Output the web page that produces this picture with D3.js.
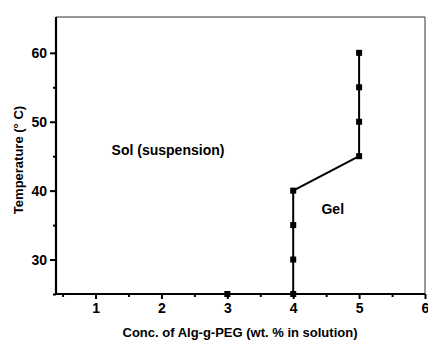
<!DOCTYPE html>
<html>
<head>
<meta charset="utf-8">
<script src="https://cdn.jsdelivr.net/npm/d3@7"></script>
<style>
  body { margin: 0; background: #fff; }
  text { font-family: "Liberation Sans", Arial, sans-serif; font-weight: bold; fill: #000; }
</style>
</head>
<body>
<svg id="chart" width="428" height="340"></svg>
<script>
// phase boundary data
const concentration = [3, 4, 4, 4, 4, 5, 5, 5, 5];
const temperature = [25, 25, 30, 35, 40, 45, 50, 55, 60];
const xMajorTicks = [1, 2, 3, 4, 5, 6];
const xMinorTicks = [0.5, 1.5, 2.5, 3.5, 4.5, 5.5];
const yMajorTicks = [30, 40, 50, 60];
const yMinorTicks = [25, 35, 45, 55];
const regionLabels = [
  { text: 'Sol (suspension)', x: 2.1, y: 45.9 },
  { text: 'Gel', x: 4.6, y: 37.3 }
];

const margin = { top: 17, right: 3, bottom: 46, left: 56 };
const width = 428, height = 340;
const innerWidth = width - margin.left - margin.right;
const innerHeight = height - margin.top - margin.bottom;

const svg = d3.select('#chart');
const g = svg.append('g').attr('transform', `translate(${margin.left},${margin.top})`);

const x = d3.scaleLinear().domain([0.4, 6]).range([0, innerWidth]);
const y = d3.scaleLinear().domain([25, 65.2]).range([innerHeight, 0]);

// top and right frame (thin)
g.append('line').attr('x1', 0).attr('x2', innerWidth).attr('y1', 0).attr('y2', 0)
  .attr('stroke', '#333').attr('stroke-width', 1);
g.append('line').attr('x1', innerWidth).attr('x2', innerWidth).attr('y1', 0).attr('y2', innerHeight)
  .attr('stroke', '#333').attr('stroke-width', 1);

// x axis
const xAxis = g.append('g').attr('transform', `translate(0,${innerHeight})`)
  .call(d3.axisBottom(x).tickValues(xMajorTicks).tickFormat(d3.format('d')).tickSize(5).tickPadding(4))
  .call(a => a.select('.domain').remove());
xAxis.selectAll('.tick line').attr('stroke', '#000').attr('stroke-width', 2);
xAxis.selectAll('.tick text').style('font-size', '14px').attr('fill', '#000');
g.append('g').attr('transform', `translate(0,${innerHeight})`)
  .call(d3.axisBottom(x).tickValues(xMinorTicks).tickFormat('').tickSize(3))
  .call(a => a.select('.domain').remove())
  .selectAll('.tick line').attr('stroke', '#000').attr('stroke-width', 2);

// y axis
const yAxis = g.append('g')
  .call(d3.axisLeft(y).tickValues(yMajorTicks).tickFormat(d3.format('d')).tickSize(6).tickPadding(3))
  .call(a => a.select('.domain').remove());
yAxis.selectAll('.tick line').attr('stroke', '#000').attr('stroke-width', 2);
yAxis.selectAll('.tick text').style('font-size', '14px').attr('fill', '#000');
g.append('g')
  .call(d3.axisLeft(y).tickValues(yMinorTicks).tickFormat('').tickSize(3))
  .call(a => a.select('.domain').remove())
  .selectAll('.tick line').attr('stroke', '#000').attr('stroke-width', 2);

// left and bottom frame (thick)
g.append('line').attr('x1', 0).attr('x2', 0).attr('y1', 0).attr('y2', innerHeight + 1)
  .attr('stroke', '#000').attr('stroke-width', 2.2);
g.append('line').attr('x1', -1).attr('x2', innerWidth).attr('y1', innerHeight).attr('y2', innerHeight)
  .attr('stroke', '#000').attr('stroke-width', 2.2);

// boundary line
const pts = concentration.map((c, i) => ({ c, t: temperature[i] }));
g.append('path')
  .datum(pts)
  .attr('fill', 'none')
  .attr('stroke', '#000')
  .attr('stroke-width', 2)
  .attr('d', d3.line().x(d => x(d.c)).y(d => y(d.t)));

g.selectAll('.pt')
  .data(pts)
  .enter()
  .append('rect')
  .attr('class', 'pt')
  .attr('x', d => x(d.c) - 3)
  .attr('y', d => y(d.t) - 3)
  .attr('width', 6)
  .attr('height', 6)
  .attr('fill', '#000');

// region labels
g.selectAll('.region')
  .data(regionLabels)
  .enter()
  .append('text')
  .attr('class', 'region')
  .attr('x', d => x(d.x))
  .attr('y', d => y(d.y))
  .attr('text-anchor', 'middle')
  .attr('dy', '0.35em')
  .style('font-size', '14px')
  .text(d => d.text);

// axis titles
svg.append('text')
  .attr('x', 240)
  .attr('y', 337)
  .attr('text-anchor', 'middle')
  .style('font-size', '13px')
  .text('Conc. of Alg-g-PEG (wt. % in solution)');

svg.append('text')
  .attr('transform', 'translate(23,160) rotate(-90)')
  .attr('text-anchor', 'middle')
  .style('font-size', '13px')
  .text('Temperature (° C)');
</script>
</body>
</html>
